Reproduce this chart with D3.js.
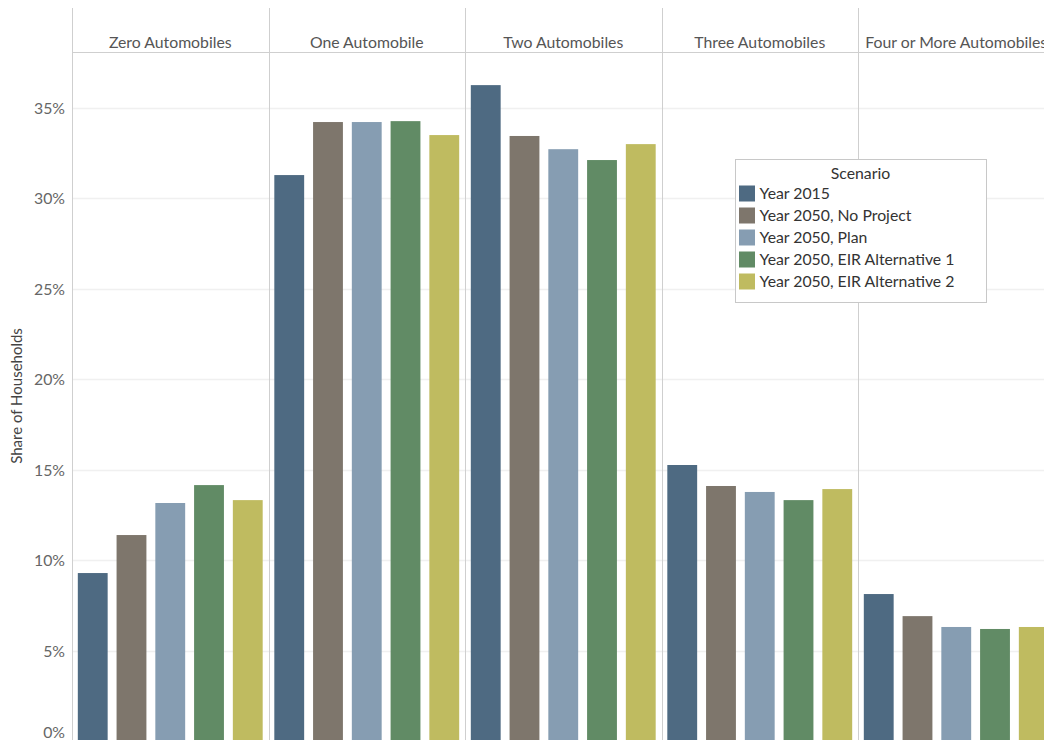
<!DOCTYPE html>
<html>
<head>
<meta charset="utf-8">
<script src="https://cdn.jsdelivr.net/npm/d3@7"></script>
<style>
    body { margin: 0; background: #fff; }
    svg { display: block; font-family: Lato, "Open Sans", sans-serif; }
</style>
</head>
<body>
<div class="js-canvas"></div>
<script>
'use strict';

// data
const categories = ['Zero Automobiles', 'One Automobile', 'Two Automobiles', 'Three Automobiles', 'Four or More Automobiles'];
const scenarios = ['Year 2015', 'Year 2050, No Project', 'Year 2050, Plan', 'Year 2050, EIR Alternative 1', 'Year 2050, EIR Alternative 2'];
const colors = ['#4e6a82', '#7e766c', '#869db2', '#618b65', '#bfbb60'];

const year2015 = [9.28, 31.27, 36.24, 15.25, 8.12];
const noProject = [11.38, 34.2, 33.43, 14.09, 6.9];
const plan = [13.15, 34.2, 32.7, 13.76, 6.3];
const alt1 = [14.14, 34.25, 32.1, 13.31, 6.19];
const alt2 = [13.31, 33.48, 32.98, 13.92, 6.3];
const seriesValues = [year2015, noProject, plan, alt1, alt2];

const yTicks = [0, 5, 10, 15, 20, 25, 30, 35];

const config = {
    width: 1044,
    height: 740,
    margin: { top: 52, left: 72 },
    panelWidth: 196.5,
    headerTop: 8,
    bottom: 741,
    fontSize: 15.8
};

const data = [];
categories.forEach((cat, ci) => {
    scenarios.forEach((sc, si) => {
        data.push({ category: cat, scenario: sc, value: seriesValues[si][ci] });
    });
});

const svg = d3.select('.js-canvas')
    .append('svg')
    .attr('width', config.width)
    .attr('height', config.height);

const y = d3.scaleLinear()
    .domain([0, 38.07])
    .range([config.bottom, config.margin.top]);

const panels = d3.scaleBand()
    .domain(categories)
    .range([config.margin.left, config.margin.left + config.panelWidth * categories.length]);

const x = d3.scaleBand()
    .domain(scenarios)
    .range([0, config.panelWidth])
    .paddingInner(0.23)
    .paddingOuter(0.15);

const color = d3.scaleOrdinal().domain(scenarios).range(colors);

// gridlines
svg.append('g')
    .selectAll('line')
    .data(yTicks.filter(d => d > 0))
    .join('line')
    .attr('x1', config.margin.left)
    .attr('x2', config.width)
    .attr('y1', d => Math.round(y(d)) + 0.5)
    .attr('y2', d => Math.round(y(d)) + 0.5)
    .attr('stroke', '#f0f0f0')
    .attr('stroke-width', 1.5);

// bars
const panelGroups = svg.selectAll('.panel')
    .data(categories)
    .join('g')
    .attr('class', 'panel')
    .attr('transform', d => `translate(${panels(d)}, 0)`);

panelGroups.selectAll('rect')
    .data(cat => data.filter(d => d.category === cat))
    .join('rect')
    .attr('x', d => x(d.scenario))
    .attr('width', x.bandwidth())
    .attr('y', d => y(d.value))
    .attr('height', d => y(0) - y(d.value))
    .attr('fill', d => color(d.scenario));

// header labels
panelGroups.append('text')
    .attr('x', config.panelWidth / 2)
    .attr('y', 48)
    .attr('text-anchor', 'middle')
    .attr('fill', '#555')
    .attr('font-size', config.fontSize)
    .text(d => d);

// panel separators
svg.append('g')
    .selectAll('line')
    .data(categories.slice(1))
    .join('line')
    .attr('x1', d => Math.round(panels(d)) + 0.5)
    .attr('x2', d => Math.round(panels(d)) + 0.5)
    .attr('y1', config.headerTop)
    .attr('y2', config.height)
    .attr('stroke', '#cfcfcf');

// header bottom line
svg.append('line')
    .attr('x1', config.margin.left)
    .attr('x2', config.width)
    .attr('y1', config.margin.top + 0.5)
    .attr('y2', config.margin.top + 0.5)
    .attr('stroke', '#cfcfcf');

// y axis
const yAxis = d3.axisLeft(y)
    .tickValues(yTicks)
    .tickSize(0)
    .tickPadding(7)
    .tickFormat(d => d + '%');

const yAxisGroup = svg.append('g')
    .attr('transform', `translate(${config.margin.left}, 0)`)
    .call(yAxis);

yAxisGroup.select('.domain').remove();
yAxisGroup.selectAll('text')
    .attr('fill', '#666')
    .attr('font-size', config.fontSize)
    .attr('font-family', 'Lato, "Open Sans", sans-serif')
    .attr('dy', '0.35em')
    .attr('y', d => d === 0 ? -9 : 0);

svg.append('line')
    .attr('x1', config.margin.left + 0.5)
    .attr('x2', config.margin.left + 0.5)
    .attr('y1', config.headerTop)
    .attr('y2', config.height)
    .attr('stroke', '#cfcfcf');

svg.append('text')
    .attr('transform', `translate(22, ${(config.margin.top + config.height) / 2}) rotate(-90)`)
    .attr('text-anchor', 'middle')
    .attr('fill', '#444')
    .attr('font-size', 15)
    .text('Share of Households');

// legend
const legend = svg.append('g')
    .attr('transform', 'translate(735.5, 159.5)');

legend.append('rect')
    .attr('width', 251)
    .attr('height', 143)
    .attr('fill', '#fff')
    .attr('stroke', '#c8c8c8');

legend.append('text')
    .attr('x', 125)
    .attr('y', 19)
    .attr('text-anchor', 'middle')
    .attr('fill', '#333')
    .attr('font-size', config.fontSize)
    .text('Scenario');

const items = legend.selectAll('.item')
    .data(scenarios)
    .join('g')
    .attr('class', 'item')
    .attr('transform', (d, i) => `translate(0, ${26 + i * 22})`);

items.append('rect')
    .attr('x', 3.5)
    .attr('y', 0)
    .attr('width', 16)
    .attr('height', 16)
    .attr('fill', d => color(d));

items.append('text')
    .attr('x', 24)
    .attr('y', 13)
    .attr('fill', '#333')
    .attr('font-size', config.fontSize)
    .text(d => d);
</script>
</body>
</html>
